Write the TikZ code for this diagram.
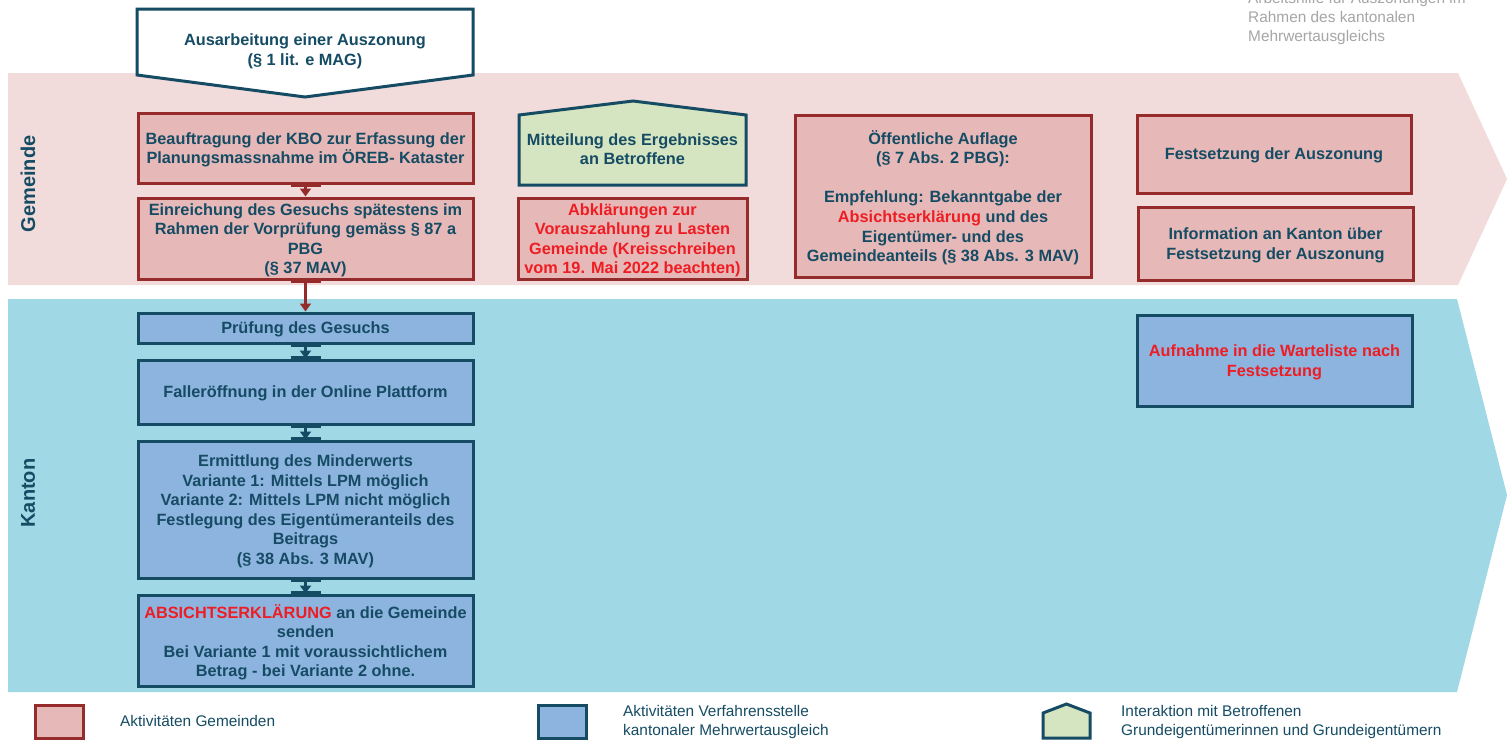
\documentclass[tikz,border=0pt]{standalone}
\usepackage{fontspec}
\setmainfont{Liberation Sans}
\usetikzlibrary{arrows.meta}
\definecolor{gembg}{HTML}{F2DCDB}
\definecolor{kanbg}{HTML}{A1D8E6}
\definecolor{redfill}{HTML}{E6B8B7}
\definecolor{redline}{HTML}{962B2B}
\definecolor{bluefill}{HTML}{8DB3DF}
\definecolor{tealc}{HTML}{154C64}
\definecolor{greenfill}{HTML}{D5E5C1}
\definecolor{hired}{HTML}{EE1D23}
\definecolor{graytxt}{HTML}{A6A6A6}
\begin{document}
\begin{tikzpicture}[x=1pt,y=-1pt,
  boxtext/.style={font=\fontsize{16.3}{19.6}\selectfont\bfseries, text=tealc, align=center, inner sep=0pt, text depth=0pt},
  redbox/.style={boxtext, rectangle, draw=redline, fill=redfill, line width=3pt},
  bluebox/.style={boxtext, rectangle, draw=tealc, fill=bluefill, line width=3pt},
  shapeline/.style={draw=tealc, line width=3pt, line join=miter},
  conn/.style={line width=2.5pt, -{Triangle[length=8pt,width=11pt]}},
  gluebar/.style={line width=4.5pt},
  lanelabel/.style={font=\fontsize{20}{24}\selectfont\bfseries, text=tealc, rotate=90},
  legtext/.style={font=\fontsize{15.4}{19}\selectfont, text=tealc, align=left, anchor=west, inner sep=0pt},
  legbox/.style={rectangle, line width=3pt, minimum width=48pt, minimum height=33pt}
]
\useasboundingbox (0,0) rectangle (1507,740);
\fill[white] (0,0) rectangle (1507,740);

% lanes
\fill[gembg] (8,73) -- (1458,73) -- (1507,179) -- (1458,285) -- (8,285) -- cycle;
\fill[kanbg] (8,299) -- (1457,299) -- (1507,495) -- (1457,692) -- (8,692) -- cycle;
\node[lanelabel] (lgem) at (28,184) {Gemeinde};
\node[lanelabel] (lkan) at (28,493) {Kanton};

% header note
\node[font=\fontsize{15.4}{19}\selectfont, text=graytxt, align=left, anchor=west, inner sep=0pt] (note) at (1248,18.5)
  {Arbeitshilfe für Auszonungen im\\Rahmen des kantonalen\\Mehrwertausgleichs};

% top pentagon
\draw[shapeline, fill=white] (137,9) -- (473,9) -- (473,75) -- (305,97) -- (137,75) -- cycle;
\node[boxtext] (start) at (305,49.5) {Ausarbeitung einer Auszonung\\(§ 1 lit. e MAG)};

% left column
\node[redbox, minimum width=335pt, minimum height=70pt] (b1) at (305.5,148)
  {Beauftragung der KBO zur Erfassung der\\Planungsmassnahme im ÖREB- Kataster};
\node[redbox, minimum width=335pt, minimum height=81pt] (b2) at (305.5,238.5)
  {Einreichung des Gesuchs spätestens im\\Rahmen der Vorprüfung gemäss § 87 a\\PBG\\(§ 37 MAV)};
\node[bluebox, minimum width=335pt, minimum height=30pt] (b3) at (305.5,328)
  {Prüfung des Gesuchs};
\node[bluebox, minimum width=335pt, minimum height=64pt] (b4) at (305.5,392)
  {Falleröffnung in der Online Plattform};
\node[bluebox, minimum width=335pt, minimum height=137pt] (b5) at (305.5,509.5)
  {Ermittlung des Minderwerts\\Variante 1: Mittels LPM möglich\\Variante 2: Mittels LPM nicht möglich\\Festlegung des Eigentümeranteils des\\Beitrags\\(§ 38 Abs. 3 MAV)};
\node[bluebox, minimum width=335pt, minimum height=91pt] (b6) at (305.5,640.5)
  {\textcolor{hired}{ABSICHTSERKLÄRUNG} an die Gemeinde\\senden\\Bei Variante 1 mit voraussichtlichem\\Betrag - bei Variante 2 ohne.};

% connectors
\draw[conn, redline] (b1.south) -- (b2.north);
\draw[conn, redline] (b2.south) -- (b3.north);
\draw[conn, tealc] (b3.south) -- (b4.north);
\draw[conn, tealc] (b4.south) -- (b5.north);
\draw[conn, tealc] (b5.south) -- (b6.north);
\draw[gluebar, redline] ([xshift=-15pt]b1.south) -- ([xshift=15pt]b1.south);
\draw[gluebar, redline] ([xshift=-15pt]b2.south) -- ([xshift=15pt]b2.south);
\draw[gluebar, tealc] ([xshift=-15pt]b3.south) -- ([xshift=15pt]b3.south);
\draw[gluebar, tealc] ([xshift=-15pt]b4.north) -- ([xshift=15pt]b4.north);
\draw[gluebar, tealc] ([xshift=-15pt]b4.south) -- ([xshift=15pt]b4.south);
\draw[gluebar, tealc] ([xshift=-15pt]b5.north) -- ([xshift=15pt]b5.north);
\draw[gluebar, tealc] ([xshift=-15pt]b5.south) -- ([xshift=15pt]b5.south);
\draw[gluebar, tealc] ([xshift=-15pt]b6.north) -- ([xshift=15pt]b6.north);

% second column
\draw[shapeline, fill=greenfill] (519,185) -- (519,115) -- (633,101) -- (746,115) -- (746,185) -- cycle;
\node[boxtext] (mit) at (632.5,149) {Mitteilung des Ergebnisses\\an Betroffene};
\node[redbox, text=hired, minimum width=229pt, minimum height=81pt] (abk) at (632.5,238.5)
  {Abklärungen zur\\Vorauszahlung zu Lasten\\Gemeinde (Kreisschreiben\\vom 19. Mai 2022 beachten)};

% third column
\node[redbox, minimum width=296pt, minimum height=162pt] (oeff) at (943,196)
  {Öffentliche Auflage\\(§ 7 Abs. 2 PBG):\\[19.6pt]Empfehlung: Bekanntgabe der\\\textcolor{hired}{Absichtserklärung} und des\\Eigentümer- und des\\Gemeindeanteils (§ 38 Abs. 3 MAV)};

% fourth column
\node[redbox, minimum width=274pt, minimum height=78pt] (fest) at (1274,154)
  {Festsetzung der Auszonung};
\node[redbox, minimum width=275pt, minimum height=73pt] (info) at (1275.5,243.5)
  {Information an Kanton über\\Festsetzung der Auszonung};
\node[bluebox, text=hired, minimum width=275pt, minimum height=91pt] (aufn) at (1274.5,360.5)
  {Aufnahme in die Warteliste nach\\Festsetzung};

% legend
\node[legbox, draw=redline, fill=redfill] (lg1) at (59,721.5) {};
\node[legtext] (lt1) at (120,721) {Aktivitäten Gemeinden};
\node[legbox, draw=tealc, fill=bluefill] (lg2) at (562,721.5) {};
\node[legtext] (lt2) at (623,722.5) {Aktivitäten Verfahrensstelle\\kantonaler Mehrwertausgleich};
\draw[shapeline, fill=greenfill] (1043,738) -- (1043,713) -- (1066.5,704) -- (1090,713) -- (1090,738) -- cycle;
\node[legtext] (lt3) at (1121,722.5) {Interaktion mit Betroffenen\\Grundeigentümerinnen und Grundeigentümern};
\end{tikzpicture}
\end{document}
